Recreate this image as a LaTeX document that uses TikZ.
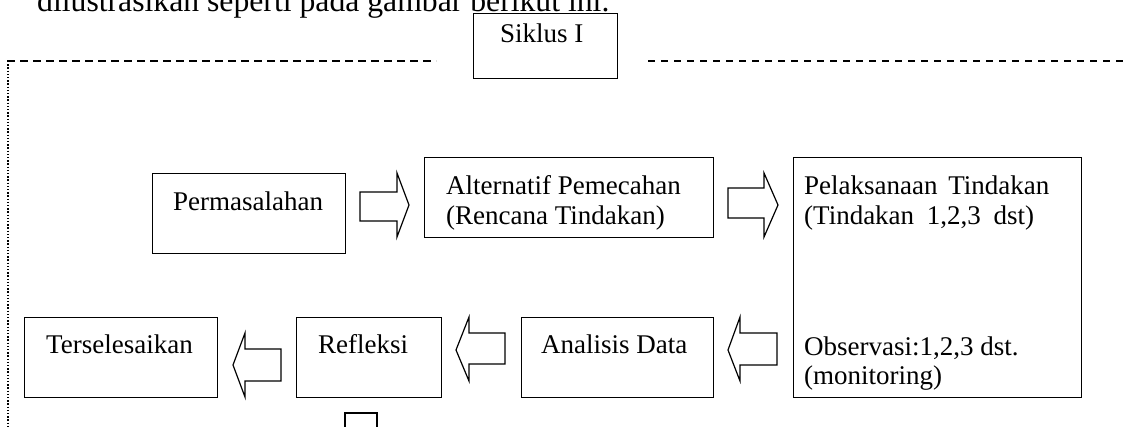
\documentclass[tikz,border=0pt]{standalone}
\usepackage{fontspec}
\setmainfont{Liberation Serif}
\begin{document}
\begin{tikzpicture}[x=1pt,y=-1pt,
  box/.style={draw,line width=1.4pt,inner sep=0pt,anchor=north west},
  txt/.style={anchor=base west,inner sep=0pt,font=\fontsize{27}{30}\selectfont},
  bodytxt/.style={anchor=base west,inner sep=0pt,font=\fontsize{31.7}{36}\selectfont},
  barrow/.style={draw,line width=1.2pt,line join=miter},
  dashline/.style={line width=1.2pt,dash pattern=on 8pt off 5pt},
  dashline2/.style={line width=1.2pt,dash pattern=on 7pt off 6pt},
  dotline/.style={line width=1.4pt,dash pattern=on 1.4pt off 1.8pt}]
\useasboundingbox (0,0) rectangle (1124,426);
\clip (0,0) rectangle (1124,426);
% top text line (cut off at the top edge)
\node[bodytxt] (intro) at (37,11) {dilustrasikan seperti pada gambar berikut ini.};
% frame lines
\coordinate (fl) at (7,61);
\coordinate (fm) at (436,61);
\coordinate (fr1) at (648,61);
\coordinate (fr2) at (1124,61);
\coordinate (fb) at (8,426);
\draw[dashline] (fl) -- (fm);
\draw[dashline2] (fr1) -- (fr2);
\draw[dotline] ([xshift=1pt]fl) -- (fb);
% boxes
\node[box,minimum width=144pt,minimum height=65pt] (siklus) at (473,13) {};
\node[box,minimum width=193pt,minimum height=80pt] (perm) at (152,173) {};
\node[box,minimum width=289pt,minimum height=80pt] (alt) at (424,157) {};
\node[box,minimum width=288pt,minimum height=240pt] (pel) at (793,157) {};
\node[box,minimum width=193pt,minimum height=80pt] (ters) at (24,317) {};
\node[box,minimum width=145pt,minimum height=80pt] (refl) at (296,317) {};
\node[box,minimum width=192pt,minimum height=80pt] (anal) at (521,317) {};
% texts
\node[txt] (tsiklus) at (500,42) {Siklus I};
\node[txt] (tperm) at (173,210) {Permasalahan};
\node[txt] (talt1) at (446,194) {Alternatif Pemecahan};
\node[txt] (talt2) at (446,224) {(Rencana Tindakan)};
\node[txt] (tpel1) at (804,194) {Pelaksanaan\hspace{4pt} Tindakan};
\node[txt] (tpel2) at (804,224) {(Tindakan\hspace{6pt} 1,2,3\hspace{6pt} dst)};
\node[txt] (tobs1) at (804,355) {Observasi:1,2,3 dst.};
\node[txt] (tobs2) at (804,384) {(monitoring)};
\node[txt] (tters) at (46,353) {Terselesaikan};
\node[txt] (trefl) at (318,353) {Refleksi};
\node[txt] (tanal) at (541,353) {Analisis Data};
% block arrows (pointing right)
\draw[barrow] (360,192) -- (397,192) -- (397,173) -- (409,205) -- (397,237) -- (397,221) -- (360,221) -- cycle;
\draw[barrow] (728,188) -- (764,188) -- (764,173) -- (778,205) -- (764,237) -- (764,218) -- (728,218) -- cycle;
% block arrows (pointing left)
\draw[barrow] (777,333) -- (740,333) -- (740,317) -- (728,350) -- (740,381) -- (740,365) -- (777,365) -- cycle;
\draw[barrow] (505,333) -- (469,333) -- (469,317) -- (456,350) -- (469,381) -- (469,364) -- (505,364) -- cycle;
\draw[barrow] (281,349) -- (245,349) -- (245,333) -- (233,365) -- (245,397) -- (245,381) -- (281,381) -- cycle;
% partial down arrow below Refleksi (cut by the bottom edge)
\draw[barrow] (345,430) -- (345,413) -- (377,413) -- (377,430);
\end{tikzpicture}
\end{document}
